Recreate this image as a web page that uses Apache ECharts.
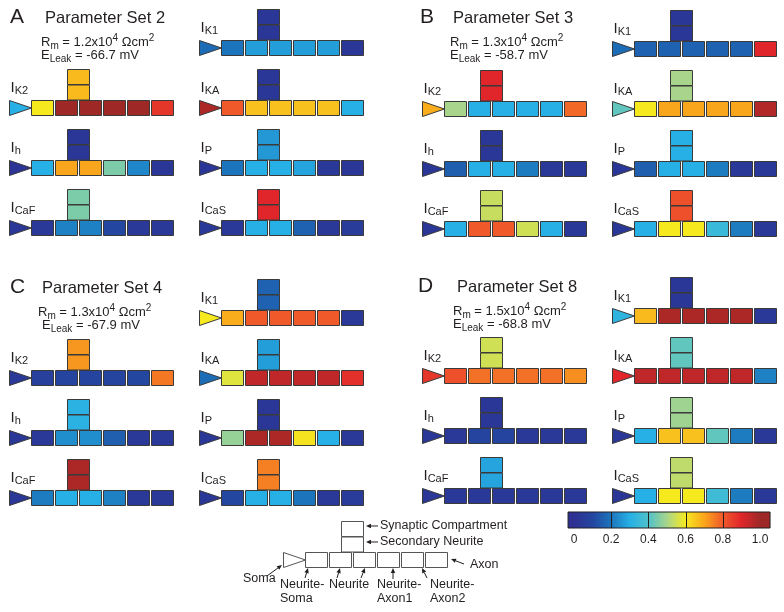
<!DOCTYPE html>
<html><head><meta charset="utf-8">
<script src="https://cdn.jsdelivr.net/npm/echarts@6/dist/echarts.min.js"></script>
<style>html,body{margin:0;padding:0;background:#fff}#c{width:784px;height:612px}</style>
</head><body><div id="c"></div>
<script>
// ---------------- DATA ----------------
const panelLetters = ['A', 'B', 'C', 'D'];
const paramSetNames = ['Parameter Set 2', 'Parameter Set 3', 'Parameter Set 4', 'Parameter Set 8'];
const rmValues = ['1.2', '1.3', '1.3', '1.5'];
const eLeakValues = ['-66.7', '-58.7', '-67.9', '-68.8'];
const currentNames = ['K1', 'K2', 'KA', 'h', 'P', 'CaF', 'CaS'];
const compartmentNames = ['Soma', 'Neurite-Soma', 'Neurite', 'Neurite', 'Neurite-Axon1', 'Neurite-Axon2', 'Axon', 'Secondary Neurite', 'Synaptic Compartment'];
// each row: [soma, neurite-soma, neurite, neurite, neurite-axon1, neurite-axon2, axon, secondary neurite, synaptic]
const set2 = [
  [0.18, 0.20, 0.27, 0.27, 0.27, 0.27, 0.03, 0.03, 0.03], // IK1
  [0.30, 0.60, 1.00, 1.00, 1.00, 1.00, 0.87, 0.67, 0.67], // IK2
  [0.98, 0.80, 0.66, 0.66, 0.66, 0.66, 0.30, 0.03, 0.03], // IKA
  [0.02, 0.30, 0.70, 0.70, 0.45, 0.23, 0.03, 0.03, 0.03], // Ih
  [0.03, 0.20, 0.30, 0.30, 0.28, 0.04, 0.03, 0.26, 0.26], // IP
  [0.03, 0.04, 0.22, 0.22, 0.10, 0.04, 0.04, 0.45, 0.45], // ICaF
  [0.04, 0.04, 0.30, 0.30, 0.16, 0.04, 0.05, 0.90, 0.90]  // ICaS
];
const set3 = [
  [0.18, 0.16, 0.16, 0.16, 0.16, 0.16, 0.90, 0.03, 0.03],
  [0.69, 0.50, 0.30, 0.30, 0.30, 0.30, 0.78, 0.90, 0.90],
  [0.42, 0.60, 0.70, 0.70, 0.70, 0.70, 0.97, 0.50, 0.50],
  [0.03, 0.15, 0.30, 0.30, 0.21, 0.04, 0.04, 0.03, 0.03],
  [0.03, 0.15, 0.30, 0.30, 0.21, 0.04, 0.04, 0.30, 0.30],
  [0.03, 0.30, 0.80, 0.80, 0.55, 0.30, 0.04, 0.54, 0.54],
  [0.03, 0.30, 0.60, 0.60, 0.35, 0.21, 0.04, 0.82, 0.82]
];
const set4 = [
  [0.60, 0.69, 0.80, 0.80, 0.80, 0.80, 0.04, 0.16, 0.16],
  [0.04, 0.07, 0.09, 0.09, 0.09, 0.10, 0.76, 0.72, 0.72],
  [0.18, 0.57, 0.95, 0.95, 0.95, 0.95, 0.88, 0.27, 0.27],
  [0.03, 0.04, 0.24, 0.24, 0.15, 0.04, 0.04, 0.31, 0.31],
  [0.03, 0.48, 0.98, 0.98, 0.61, 0.30, 0.04, 0.03, 0.03],
  [0.03, 0.21, 0.30, 0.30, 0.22, 0.04, 0.04, 0.98, 0.98],
  [0.03, 0.10, 0.30, 0.30, 0.20, 0.04, 0.05, 0.75, 0.75]
];
const set8 = [
  [0.32, 0.67, 0.98, 0.98, 0.98, 0.98, 0.04, 0.03, 0.03],
  [0.87, 0.82, 0.77, 0.77, 0.77, 0.77, 0.73, 0.55, 0.55],
  [0.90, 0.95, 0.95, 0.95, 0.95, 0.95, 0.22, 0.42, 0.42],
  [0.03, 0.04, 0.09, 0.09, 0.04, 0.04, 0.04, 0.03, 0.03],
  [0.03, 0.30, 0.66, 0.66, 0.42, 0.21, 0.04, 0.49, 0.49],
  [0.03, 0.04, 0.04, 0.04, 0.04, 0.04, 0.04, 0.28, 0.28],
  [0.03, 0.30, 0.60, 0.60, 0.36, 0.21, 0.04, 0.53, 0.53]
];
const colorbarTicks = [0, 0.2, 0.4, 0.6, 0.8, 1.0];
const colormap = ['#2e3192', '#2346a0', '#1c75bc', '#27b0e6', '#4fc2c9', '#a8d58b', '#f6ea1f', '#faa61c', '#f05a2a', '#e0262a', '#9e2826'];

// ---------------- LAYOUT ----------------
const sets = [set2, set3, set4, set8];
const panelOrigins = [[0, 0], [413, 1], [0, 270], [413, 268]];
const colX = [9, 199];
const rowY = [40, 100, 160, 220];
const slotCol = [1, 0, 1, 0, 1, 0, 1];
const slotRow = [0, 1, 1, 2, 2, 3, 3];
const headerLayout = [
  { lx: 10, px: 45, rx: 41, ex: 41, y: 0 },
  { lx: 420, px: 453, rx: 450, ex: 450, y: 0 },
  { lx: 10, px: 42, rx: 38, ex: 42, y: 270 },
  { lx: 418, px: 457, rx: 453, ex: 453, y: 269 }
];
const FONT = '"Liberation Sans", Arial, Helvetica, sans-serif';
const INK = '#231f20';
const TRI_W = 22, BOX_W = 22, BOX_H = 15, PITCH = 24, STACK = 15.5;

function compShape(k, x0, y0) {
  if (k === 0) return { tri: [[x0, y0], [x0, y0 + BOX_H], [x0 + TRI_W, y0 + BOX_H / 2]] };
  if (k <= 6) return { rect: [x0 + TRI_W + (k - 1) * PITCH, y0, BOX_W, BOX_H] };
  const sx = x0 + TRI_W + 2 * PITCH - 12;
  if (k === 7) return { rect: [sx, y0 - STACK, BOX_W, BOX_H] };
  return { rect: [sx, y0 - 2 * STACK, BOX_W, BOX_H] };
}

const compData = [];
sets.forEach((s, p) => s.forEach((row, c) => row.forEach((v, k) => compData.push([p, c, k, v]))));
const labelData = [];
panelLetters.forEach((_, p) => currentNames.forEach((_, c) => labelData.push([p, c])));
const headerData = panelLetters.map((_, p) => [p, 0]);

const chart = echarts.init(document.getElementById('c'), null, { renderer: 'canvas' });

function richTextStyle(text, x, y, rich, extra) {
  return Object.assign({ text, x, y, rich, fill: INK, fontFamily: FONT, align: 'left', verticalAlign: 'middle' }, extra || {});
}

function arrow(x1, y1, x2, y2) {
  const dx = x2 - x1, dy = y2 - y1, L = Math.hypot(dx, dy), ux = dx / L, uy = dy / L, hl = 5, hw = 2.2;
  const bx = x2 - ux * hl, by = y2 - uy * hl;
  return [
    { type: 'line', shape: { x1, y1, x2: bx, y2: by }, style: { stroke: INK, lineWidth: 1 } },
    { type: 'polygon', shape: { points: [[x2, y2], [bx - uy * hw, by + ux * hw], [bx + uy * hw, by - ux * hw]] }, style: { fill: INK } }
  ];
}
const legendX0 = 283, legendY0 = 552;
const legendEls = [];
compartmentNames.forEach((name, k) => {
  const s = compShape(k, legendX0, legendY0);
  if (s.tri) legendEls.push({ type: 'polygon', shape: { points: s.tri.map(p => [p[0] + 0.5, p[1] + 0.5]) }, style: { fill: '#fff', stroke: '#555', lineWidth: 1 } });
  else legendEls.push({ type: 'rect', shape: { x: s.rect[0] + 0.5, y: s.rect[1] + 0.5, width: s.rect[2], height: s.rect[3] }, style: { fill: '#fff', stroke: '#555', lineWidth: 1 } });
});
function ltext(t, x, y) {
  return { type: 'text', style: { text: t, x, y, fill: INK, fontFamily: FONT, fontSize: 12.5, align: 'left', verticalAlign: 'middle' } };
}
legendEls.push(ltext('Synaptic Compartment', 380, 526), ...arrow(378, 526, 366, 526));
legendEls.push(ltext('Secondary Neurite', 380, 542), ...arrow(378, 542, 366, 542));
legendEls.push(ltext('Axon', 470, 565), ...arrow(464, 564, 451, 559));
legendEls.push(ltext('Soma', 243, 579), ...arrow(267, 576, 282, 565));
legendEls.push(ltext('Neurite-', 280, 585), ltext('Soma', 280, 599), ...arrow(305, 578, 308, 568));
legendEls.push(ltext('Neurite', 329, 585), ...arrow(337, 578, 340, 568), ...arrow(361, 578, 365, 568));
legendEls.push(ltext('Neurite-', 377, 585), ltext('Axon1', 377, 599), ...arrow(393, 579, 393, 568));
legendEls.push(ltext('Neurite-', 430, 585), ltext('Axon2', 430, 599), ...arrow(427, 578, 422, 568));

const option = {
  animation: false,
  backgroundColor: '#fff',
  grid: [
    { left: 0, right: 0, top: 0, bottom: 0 },
    { left: 574, width: 186, top: 512, height: 16 }
  ],
  xAxis: [
    { type: 'value', gridIndex: 0, min: 0, max: 784, show: false },
    { type: 'value', gridIndex: 1, min: 0, max: 1, interval: 0.2,
      axisLine: { show: false }, axisTick: { show: false }, splitLine: { show: false },
      axisLabel: { show: true, showMinLabel: true, showMaxLabel: true, margin: 6, fontSize: 12, color: INK, fontFamily: FONT,
        formatter: v => (v === 0 ? '0' : v.toFixed(1)) } }
  ],
  yAxis: [
    { type: 'value', gridIndex: 0, min: 0, max: 612, inverse: true, show: false },
    { type: 'value', gridIndex: 1, min: 0, max: 1, show: false }
  ],
  visualMap: [{
    type: 'continuous', show: false, min: 0, max: 1, dimension: 3, seriesIndex: 0,
    inRange: { color: colormap }
  }],
  graphic: legendEls,
  series: [
    {
      type: 'custom', name: 'compartments', xAxisIndex: 0, yAxisIndex: 0, clip: false,
      data: compData,
      renderItem: (params, api) => {
        const p = api.value(0), c = api.value(1), k = api.value(2);
        const color = api.visual('color');
        const o = panelOrigins[p];
        const x0 = o[0] + colX[slotCol[c]], y0 = o[1] + rowY[slotRow[c]];
        const s = compShape(k, x0, y0);
        const st = { fill: color, stroke: '#3a3a3a', lineWidth: 1 };
        if (s.tri) {
          const pts = s.tri.map(q => { const r = api.coord(q); return [r[0] + 0.5, r[1] + 0.5]; });
          return { type: 'polygon', shape: { points: pts }, style: st };
        }
        const a = api.coord([s.rect[0], s.rect[1]]), sz = api.size([s.rect[2], s.rect[3]]);
        return { type: 'rect', shape: { x: a[0] + 0.5, y: a[1] + 0.5, width: sz[0], height: sz[1] }, style: st };
      }
    },
    {
      type: 'custom', name: 'colorbar', xAxisIndex: 1, yAxisIndex: 1, clip: false,
      data: [[0, 0]],
      renderItem: (params, api) => {
        const a = api.coord([-0.032, 1]), b = api.coord([1.054, 0]);
        const g0 = api.coord([0, 0]), g1 = api.coord([1, 0]);
        const children = [{
          type: 'rect', shape: { x: a[0], y: a[1], width: b[0] - a[0], height: b[1] - a[1] },
          style: { fill: { type: 'linear', x: g0[0], y: 0, x2: g1[0], y2: 0, global: true,
            colorStops: colormap.map((col, i) => ({ offset: i / (colormap.length - 1), color: col })) },
            stroke: '#231f20', lineWidth: 1 }
        }];
        colorbarTicks.slice(1, -1).forEach(t => {
          const q = Math.round(api.coord([t, 0])[0]) + 0.5;
          children.push({ type: 'line', shape: { x1: q, y1: a[1], x2: q, y2: b[1] }, style: { stroke: '#231f20', lineWidth: 1 } });
        });
        return { type: 'group', children };
      }
    },
    {
      type: 'custom', name: 'labels', xAxisIndex: 0, yAxisIndex: 0, clip: false,
      data: labelData,
      renderItem: (params, api) => {
        const p = api.value(0), c = api.value(1);
        const o = panelOrigins[p];
        const x0 = o[0] + colX[slotCol[c]], y0 = o[1] + rowY[slotRow[c]];
        const pt = api.coord([x0 + 1.5, y0 - 12.5]);
        return {
          type: 'text',
          style: richTextStyle('{i|I}{s|' + currentNames[c] + '}', pt[0], pt[1], {
            i: { fontSize: 15, lineHeight: 18, fontFamily: FONT, fill: INK, verticalAlign: 'middle' },
            s: { fontSize: 11, lineHeight: 11, fontFamily: FONT, fill: INK, verticalAlign: 'bottom' }
          })
        };
      }
    },
    {
      type: 'custom', name: 'headers', xAxisIndex: 0, yAxisIndex: 0, clip: false,
      data: headerData,
      renderItem: (params, api) => {
        const p = api.value(0);
        const h = headerLayout[p];
        const L = api.coord([h.lx, h.y + 17.5]);
        const P = api.coord([h.px, h.y + 18.5]);
        const R = api.coord([h.rx, h.y + 42]);
        const E = api.coord([h.ex, h.y + 55.5]);
        const rich = {
          t: { fontSize: 13, lineHeight: 18, fontFamily: FONT, fill: INK, verticalAlign: 'middle' },
          sub: { fontSize: 10, lineHeight: 10, fontFamily: FONT, fill: INK, verticalAlign: 'bottom' },
          sup: { fontSize: 10, lineHeight: 10, fontFamily: FONT, fill: INK, verticalAlign: 'top' }
        };
        return {
          type: 'group',
          children: [
            { type: 'text', style: { text: panelLetters[p], x: L[0], y: L[1], fontSize: 21, fontFamily: FONT, fill: INK, align: 'left', verticalAlign: 'middle' } },
            { type: 'text', style: { text: paramSetNames[p], x: P[0], y: P[1], fontSize: 16.5, fontFamily: FONT, fill: INK, align: 'left', verticalAlign: 'middle' } },
            { type: 'text', style: richTextStyle('{t|R}{sub|m}{t| = ' + rmValues[p] + 'x10}{sup|4}{t| \u03A9cm}{sup|2}', R[0], R[1], rich) },
            { type: 'text', style: richTextStyle('{t|E}{sub|Leak}{t| = ' + eLeakValues[p] + ' mV}', E[0], E[1], rich) }
          ]
        };
      }
    }
  ]
};
chart.setOption(option);
</script>
</body></html>
